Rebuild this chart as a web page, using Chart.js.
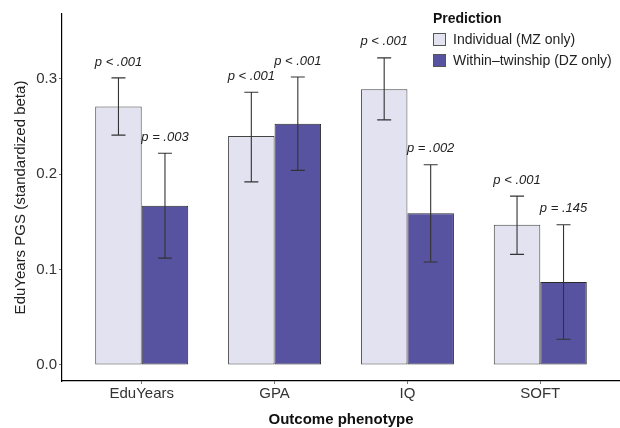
<!DOCTYPE html>
<html>
<head>
<meta charset="utf-8">
<script src="https://cdn.jsdelivr.net/npm/chart.js@4/dist/chart.umd.min.js"></script>
<style>
  html, body { margin: 0; padding: 0; background: #fff; }
  #wrap { width: 620px; height: 428px; }
</style>
</head>
<body>
<div id="wrap"><canvas id="grafico" width="620" height="428"></canvas></div>
<script>
// dados
const categorias = ['EduYears', 'GPA', 'IQ', 'SOFT'];
const seriesNomes = ['Individual (MZ only)', 'Within\u2013twinship (DZ only)'];

const individual = [0.271, 0.240, 0.289, 0.147];
const individualBaixo = [0.241, 0.192, 0.257, 0.116];
const individualAlto = [0.301, 0.286, 0.322, 0.177];
const individualP = ['p < .001', 'p < .001', 'p < .001', 'p < .001'];

const within = [0.167, 0.253, 0.159, 0.087];
const withinBaixo = [0.112, 0.204, 0.108, 0.027];
const withinAlto = [0.222, 0.302, 0.210, 0.147];
const withinP = ['p = .003', 'p < .001', 'p = .002', 'p = .145'];

const yTicks = [0.0, 0.1, 0.2, 0.3];

const corClara = '#E2E2F0';
const corEscura = '#5853A0';
const fonte = '"Liberation Sans", Arial, Helvetica, sans-serif';

// barras de erro + valores p
const barrasErro = {
    id: 'barrasErro',
    afterDatasetsDraw(chart) {
        const ctx = chart.ctx;
        const y = chart.scales.y;
        const grupos = [
            [individualBaixo, individualAlto, individualP],
            [withinBaixo, withinAlto, withinP]
        ];
        ctx.save();
        grupos.forEach(function (g, d) {
            const meta = chart.getDatasetMeta(d);
            meta.data.forEach(function (bar, i) {
                const x = bar.x;
                const yb = y.getPixelForValue(g[0][i]);
                const ya = y.getPixelForValue(g[1][i]);
                ctx.strokeStyle = '#333333';
                ctx.lineWidth = 1.1;
                ctx.beginPath();
                ctx.moveTo(x, yb); ctx.lineTo(x, ya);
                ctx.moveTo(x - 7, ya); ctx.lineTo(x + 7, ya);
                ctx.moveTo(x - 7, yb); ctx.lineTo(x + 7, yb);
                ctx.stroke();
                ctx.fillStyle = '#222222';
                ctx.font = 'italic 13px ' + fonte;
                ctx.textAlign = 'center';
                ctx.textBaseline = 'middle';
                ctx.fillText(g[2][i], x, ya - 16);
            });
        });
        ctx.restore();
    }
};

// legenda dentro do painel, como no original
const legendaDentro = {
    id: 'legendaDentro',
    afterDraw(chart) {
        const ctx = chart.ctx;
        const cores = [corClara, corEscura];
        ctx.save();
        ctx.textAlign = 'left';
        ctx.textBaseline = 'middle';
        ctx.fillStyle = '#111111';
        ctx.font = 'bold 14px ' + fonte;
        ctx.fillText('Prediction', 433, 19);
        ctx.font = '14px ' + fonte;
        seriesNomes.forEach(function (nome, i) {
            const yc = 40 + i * 21;
            ctx.fillStyle = cores[i];
            ctx.fillRect(433.5, yc - 6.5, 12, 12);
            ctx.strokeStyle = '#555555';
            ctx.lineWidth = 1;
            ctx.strokeRect(433.5, yc - 6.5, 12, 12);
            ctx.fillStyle = '#222222';
            ctx.fillText(nome, 453, yc);
        });
        ctx.restore();
    }
};

const dados = {
    datasets: [
        {
            label: seriesNomes[0],
            data: individual.map(function (v, i) { return { x: i, y: v }; }),
            backgroundColor: corClara,
            borderColor: '#444444',
            borderWidth: 1,
            borderSkipped: false
        },
        {
            label: seriesNomes[1],
            data: within.map(function (v, i) { return { x: i, y: v }; }),
            backgroundColor: corEscura,
            borderColor: '#2a2a2a',
            borderWidth: 1,
            borderSkipped: false
        }
    ]
};

const config = {
    type: 'bar',
    data: dados,
    options: {
        responsive: false,
        animation: false,
        devicePixelRatio: 1,
        categoryPercentage: 0.7,
        barPercentage: 1.0,
        layout: { padding: { top: 14, right: 0, bottom: 0, left: 0 } },
        plugins: {
            legend: { display: false },
            tooltip: { enabled: false }
        },
        scales: {
            x: {
                type: 'linear',
                min: -0.6,
                max: 3.6,
                offset: false,
                afterBuildTicks: function (scale) {
                    scale.ticks = categorias.map(function (c, i) { return { value: i }; });
                },
                afterFit: function (scale) { scale.height = 47; },
                grid: { display: true, offset: false, drawOnChartArea: false, drawTicks: true, tickLength: 3, color: '#777777' },
                border: { display: true, color: '#000000', width: 1.2 },
                ticks: {
                    autoSkip: false,
                    maxRotation: 0,
                    padding: 1,
                    color: '#333333',
                    font: { family: fonte, size: 15 },
                    callback: function (v) { return categorias[v]; }
                },
                title: {
                    display: true,
                    text: 'Outcome phenotype',
                    color: '#111111',
                    font: { family: fonte, size: 15, weight: 'bold', lineHeight: 1 },
                    padding: { top: 0, bottom: 1 }
                }
            },
            y: {
                min: -0.0168,
                max: 0.368,
                afterBuildTicks: function (scale) {
                    scale.ticks = yTicks.map(function (v) { return { value: v }; });
                },
                afterFit: function (scale) { scale.width = 62; },
                grid: { display: true, drawOnChartArea: false, drawTicks: true, tickLength: 3, color: '#777777' },
                border: { display: true, color: '#000000', width: 1.2 },
                ticks: {
                    padding: 2,
                    color: '#333333',
                    font: { family: fonte, size: 15 },
                    callback: function (v) { return v.toFixed(1); }
                },
                title: {
                    display: true,
                    text: 'EduYears PGS (standardized beta)',
                    color: '#222222',
                    font: { family: fonte, size: 15, lineHeight: 1.2 },
                    padding: { top: 12, bottom: 0 }
                }
            }
        }
    },
    plugins: [barrasErro, legendaDentro]
};

let meuGrafico = new Chart(document.getElementById('grafico'), config);
</script>
</body>
</html>
